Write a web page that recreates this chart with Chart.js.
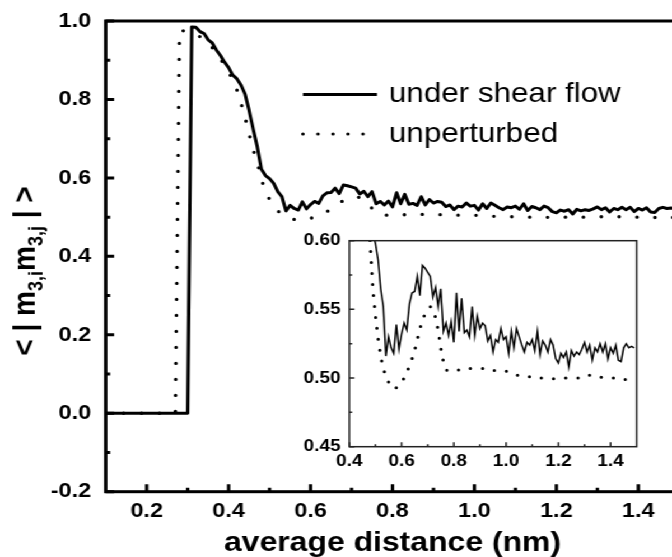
<!DOCTYPE html>
<html><head><meta charset="utf-8">
<script src="https://cdn.jsdelivr.net/npm/chart.js@4.4.1/dist/chart.umd.min.js"></script>
<style>
html,body{margin:0;padding:0;overflow:hidden;background:#fff;width:672px;height:557px}
#wrap{position:absolute;left:0;top:0;width:614px;height:557px;transform:scaleX(1.12);transform-origin:0 0}
#main{position:absolute;left:0;top:0}
#inset{position:absolute;left:250px;top:228px}
</style></head><body>
<div id="wrap"><canvas id="main" width="614" height="557"></canvas><canvas id="inset" width="330" height="250"></canvas></div>
<script>
// ---- data ----
const distance = [0.10,
 0.27,0.28,0.29,0.30,0.31,0.32,0.33,0.34,0.35,0.36,0.37,0.38,0.39,0.40,0.41,0.42,0.43,0.44,0.45,0.46,0.47,0.48,0.49,
 0.50,0.51,0.52,0.53,0.54,0.55,0.56,0.57,0.58,0.59,0.60,0.61,0.62,0.63,0.64,0.65,0.66,0.67,0.68,0.69,
 0.70,0.71,0.72,0.73,0.74,0.75,0.76,0.77,0.78,0.79,0.80,0.81,0.82,0.83,0.84,0.85,0.86,0.87,0.88,0.89,
 0.90,0.91,0.92,0.93,0.94,0.95,0.96,0.97,0.98,0.99,1.00,1.01,1.02,1.03,1.04,1.05,1.06,1.07,1.08,1.09,
 1.10,1.11,1.12,1.13,1.14,1.15,1.16,1.17,1.18,1.19,1.20,1.21,1.22,1.23,1.24,1.25,1.26,1.27,1.28,1.29,
 1.30,1.31,1.32,1.33,1.34,1.35,1.36,1.37,1.38,1.39,1.40,1.41,1.42,1.43,1.44,1.45,1.46,1.47,1.48,1.49];
const underShear = [0,
 0,0,0,0,0.985,0.984,0.973,0.968,0.952,0.944,0.926,0.912,0.895,0.881,0.862,0.853,0.837,0.814,0.772,0.724,0.679,0.622,0.606,
 0.598,0.586,0.565,0.552,0.516,0.530,0.522,0.518,0.539,0.521,0.532,0.540,0.535,0.554,0.562,0.563,0.574,0.560,0.582,0.580,
 0.577,0.574,0.559,0.566,0.552,0.565,0.534,0.540,0.531,0.541,0.526,0.562,0.534,0.558,0.533,0.535,0.530,0.552,0.531,0.545,
 0.536,0.540,0.538,0.527,0.531,0.519,0.528,0.526,0.536,0.528,0.530,0.518,0.534,0.522,0.536,0.530,0.524,0.519,0.526,0.524,
 0.528,0.520,0.534,0.517,0.527,0.524,0.519,0.528,0.524,0.514,0.511,0.518,0.515,0.519,0.508,0.520,0.516,0.519,0.517,0.521,
 0.526,0.519,0.524,0.513,0.522,0.519,0.525,0.519,0.525,0.514,0.522,0.518,0.524,0.513,0.512,0.522,0.525,0.522,0.523,0.522];
const unperturbed = [0,
 0,0.975,0.975,0.973,0.970,0.966,0.960,0.953,0.945,0.932,0.918,0.903,0.888,0.870,0.850,0.825,0.792,0.755,0.712,0.672,0.640,0.597,0.565,
 0.545,0.529,0.516,0.507,0.501,0.497,0.494,0.492,0.493,0.494,0.497,0.500,0.504,0.509,0.514,0.520,0.528,0.536,0.542,0.547,
 0.550,0.552,0.550,0.544,0.535,0.522,0.512,0.506,0.505,0.505,0.505,0.505,0.506,0.506,0.506,0.507,0.507,0.507,0.507,0.507,
 0.507,0.507,0.506,0.506,0.506,0.506,0.505,0.505,0.505,0.505,0.505,0.504,0.503,0.503,0.502,0.502,0.502,0.501,0.501,0.501,
 0.501,0.500,0.500,0.500,0.500,0.500,0.500,0.500,0.4995,0.4995,0.4995,0.4995,0.500,0.500,0.500,0.500,0.500,0.500,0.500,0.500,
 0.501,0.501,0.502,0.502,0.502,0.501,0.501,0.500,0.500,0.500,0.500,0.500,0.500,0.499,0.499,0.499,0.499,0.499,0.499,0.499];

const seriesLabels = ['under shear flow', 'unperturbed'];
const mainXTicks = [0.2,0.4,0.6,0.8,1.0,1.2,1.4];
const mainXMinor = [0.3,0.5,0.7,0.9,1.1,1.3];
const mainYTicks = [-0.2,0.0,0.2,0.4,0.6,0.8,1.0];
const mainYMinor = [-0.1,0.1,0.3,0.5,0.7,0.9];
const insetXTicks = [0.4,0.6,0.8,1.0,1.2,1.4];
const insetXMinor = [0.5,0.7,0.9,1.1,1.3];
const insetYTicks = [0.45,0.50,0.55,0.60];
const insetYMinor = [0.475,0.525,0.575];
const xTitle = 'average distance (nm)';
const yTitleParts = [['< | m', false], ['3,i', true], ['m', false], ['3,j', true], [' | >', false]];

// ---- drawing helpers ----
const FONT = "'Liberation Sans', Arial, Helvetica, sans-serif";
const pts = (ys) => distance.map((d, i) => ({x: d, y: ys[i]}));

const framePlugin = {
  id: 'frame',
  afterDatasetsDraw(chart, args, o) {
    const {ctx, chartArea: a, scales} = chart;
    ctx.save();
    ctx.strokeStyle = o.color; ctx.lineWidth = o.width; ctx.lineCap = 'butt';
    ctx.strokeRect(a.left, a.top, a.right - a.left, a.bottom - a.top);
    ctx.beginPath();
    const xt = (list, len) => list.forEach(v => { const p = scales.x.getPixelForValue(v); ctx.moveTo(p, a.bottom); ctx.lineTo(p, a.bottom - len); });
    const yt = (list, len) => list.forEach(v => { const p = scales.y.getPixelForValue(v); ctx.moveTo(a.left, p); ctx.lineTo(a.left + len, p); });
    xt(o.xMajor, o.major); xt(o.xMinor, o.minor); yt(o.yMajor, o.major); yt(o.yMinor, o.minor);
    ctx.stroke();
    ctx.restore();
  }
};

const yTitlePlugin = {
  id: 'yTitle',
  afterDraw(chart, args, o) {
    if (!o.parts) return;
    const ctx = chart.ctx;
    ctx.save();
    ctx.translate(o.x, o.y); ctx.rotate(-Math.PI / 2);
    ctx.fillStyle = '#000'; ctx.textBaseline = 'alphabetic'; ctx.textAlign = 'left';
    let total = 0;
    const w = o.parts.map(([t, sub]) => { ctx.font = sub ? o.subFont : o.font; const m = ctx.measureText(t).width; total += m; return m; });
    let cx = -total / 2;
    o.parts.forEach(([t, sub], i) => { ctx.font = sub ? o.subFont : o.font; ctx.fillText(t, cx, sub ? o.subShift : 0); cx += w[i]; });
    ctx.restore();
  }
};

const legendPlugin = {
  id: 'insideLegend',
  afterDraw(chart, args, o) {
    if (!o.rows) return;
    const ctx = chart.ctx;
    ctx.save();
    chart.data.datasets.forEach((ds, i) => {
      const y = o.rows[i];
      ctx.beginPath();
      ctx.strokeStyle = ds.borderColor; ctx.lineWidth = o.lineWidths[i];
      ctx.setLineDash(o.dashes[i]); ctx.lineCap = o.caps[i];
      ctx.moveTo(o.x0, y); ctx.lineTo(o.x1[i], y); ctx.stroke();
      ctx.setLineDash([]);
      ctx.fillStyle = '#000'; ctx.font = o.font; ctx.textBaseline = 'middle'; ctx.textAlign = 'left';
      ctx.fillText(ds.label, o.tx, y);
    });
    ctx.restore();
  }
};

function tickFont(size) { return {family: FONT, size: size, weight: 'bold'}; }

// ---- main chart ----
new Chart(document.getElementById('main'), {
  type: 'line',
  data: {datasets: [
    {label: seriesLabels[0], data: pts(underShear), borderColor: '#000', borderWidth: 3, pointRadius: 0, borderJoinStyle: 'round', tension: 0},
    {label: seriesLabels[1], data: pts(unperturbed), borderColor: '#000', borderWidth: 3.3, borderDash: [0, 16], borderCapStyle: 'round', pointRadius: 0, tension: 0}
  ]},
  options: {
    responsive: false, animation: false, devicePixelRatio: 1,
    layout: {padding: {left: 0, right: 7.5, top: 21, bottom: 0}},
    plugins: {
      legend: {display: false}, tooltip: {enabled: false},
      frame: {color: '#000', width: 3, major: 7.5, minor: 4, xMajor: mainXTicks, xMinor: mainXMinor, yMajor: mainYTicks, yMinor: mainYMinor},
      yTitle: {parts: yTitleParts, x: 31, y: 271, font: 'bold 28px ' + FONT, subFont: 'bold 18px ' + FONT, subShift: 7},
      insideLegend: {rows: [94.5, 134], x0: 270.5, x1: [336.6, 326], tx: 347.3, font: '28px ' + FONT,
        lineWidths: [3, 3.2], dashes: [[], [0, 13.4]], caps: ['butt', 'round']}
    },
    scales: {
      x: {
        type: 'linear', min: 0.1, max: 1.5,
        grid: {display: false, drawTicks: false}, border: {display: false},
        afterBuildTicks: s => { s.ticks = mainXTicks.map(v => ({value: v})); },
        afterFit: s => { s.height = 557 - 491.7; s.paddingLeft = 0; s.paddingRight = 0; },
        ticks: {autoSkip: false, maxRotation: 0, padding: 7, color: '#000', font: tickFont(21), callback: v => Number(v).toFixed(1)},
        title: {display: true, text: xTitle, color: '#000', font: {family: FONT, size: 28.5, weight: 'bold', lineHeight: 0.96}, padding: {top: 0, bottom: 0}}
      },
      y: {
        type: 'linear', min: -0.2, max: 1.0,
        grid: {display: false, drawTicks: false}, border: {display: false},
        afterBuildTicks: s => { s.ticks = mainYTicks.map(v => ({value: v})); },
        afterFit: s => { s.width = 94.4; s.paddingTop = 0; s.paddingBottom = 0; },
        ticks: {autoSkip: false, padding: 13, color: '#000', font: tickFont(21), callback: v => Number(v).toFixed(1)}
      }
    }
  },
  plugins: [framePlugin, yTitlePlugin, legendPlugin]
});

// ---- inset chart ----
new Chart(document.getElementById('inset'), {
  type: 'line',
  data: {datasets: [
    {label: seriesLabels[0], data: pts(underShear), borderColor: '#000', borderWidth: 1.5, pointRadius: 0, tension: 0},
    {label: seriesLabels[1], data: pts(unperturbed), borderColor: '#000', borderWidth: 3, borderDash: [0, 11], borderCapStyle: 'round', pointRadius: 0, tension: 0}
  ]},
  options: {
    responsive: false, animation: false, devicePixelRatio: 1,
    layout: {padding: {left: 0, right: 11.5, top: 12.7, bottom: 0}},
    plugins: {
      legend: {display: false}, tooltip: {enabled: false},
      frame: {color: '#222', width: 1.5, major: 4.5, minor: 2.5, xMajor: insetXTicks, xMinor: insetXMinor, yMajor: insetYTicks, yMinor: insetYMinor}
    },
    scales: {
      x: {
        type: 'linear', min: 0.4, max: 1.5,
        grid: {display: false, drawTicks: false}, border: {display: false},
        afterBuildTicks: s => { s.ticks = insetXTicks.map(v => ({value: v})); },
        afterFit: s => { s.height = 250 - 218.7; s.paddingLeft = 0; s.paddingRight = 0; },
        ticks: {autoSkip: false, maxRotation: 0, padding: 4.5, color: '#000', font: tickFont(17), callback: v => Number(v).toFixed(1)}
      },
      y: {
        type: 'linear', min: 0.45, max: 0.60,
        grid: {display: false, drawTicks: false}, border: {display: false},
        afterBuildTicks: s => { s.ticks = insetYTicks.map(v => ({value: v})); },
        afterFit: s => { s.width = 61.9; s.paddingTop = 0; s.paddingBottom = 0; },
        ticks: {autoSkip: false, padding: 7.7, color: '#000', font: tickFont(17), callback: v => Number(v).toFixed(2)}
      }
    }
  },
  plugins: [framePlugin]
});
</script></body></html>
